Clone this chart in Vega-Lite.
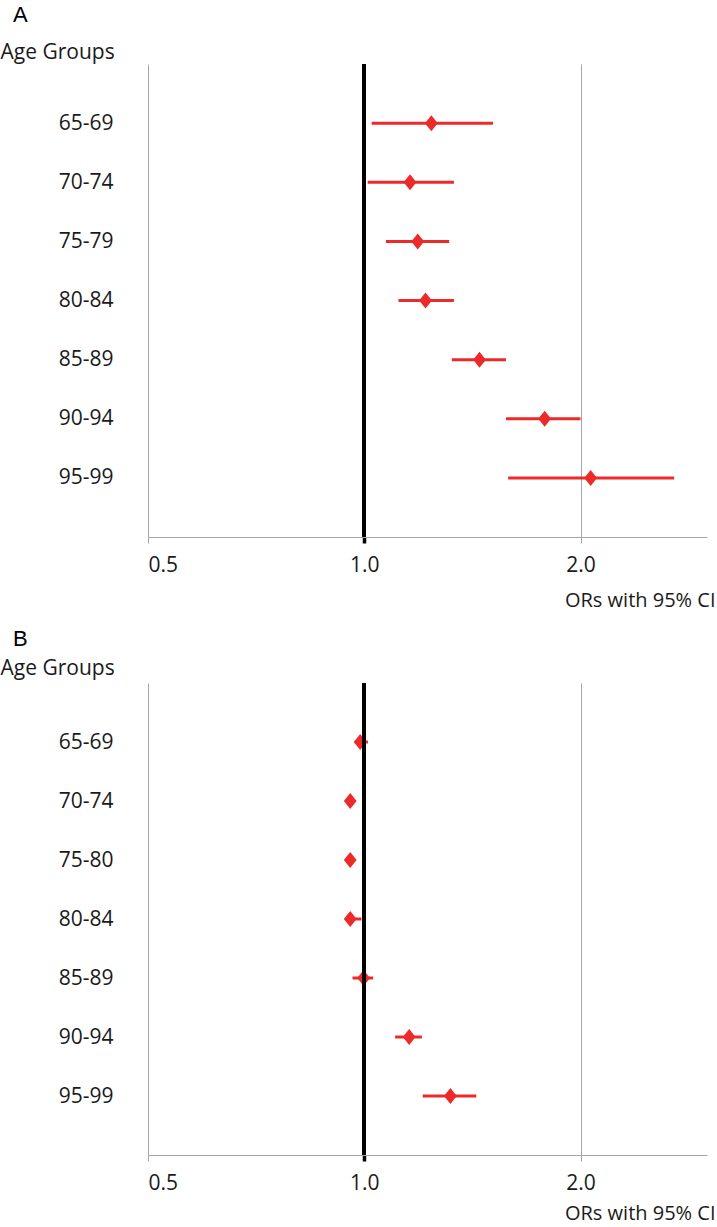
{
  "$schema": "https://vega.github.io/schema/vega-lite/v6.json",
  "padding": {"top": 4, "left": 0, "right": 0, "bottom": 0},
  "background": "white",
  "spacing": 18,
  "config": {
    "view": {"stroke": null},
    "font": "Open Sans",
    "axisX": {
      "format": ".1f",
      "grid": true,
      "gridColor": "#a6a6a6",
      "gridWidth": 1,
      "domainColor": "#a6a6a6",
      "domainWidth": 1,
      "tickColor": {"condition": {"test": "datum.value == 1", "value": "#000000"}, "value": "#a6a6a6"},
      "tickWidth": {"condition": {"test": "datum.value == 1", "value": 3.5}, "value": 1},
      "tickSize": 6,
      "labelFontSize": 21,
      "labelColor": "#1a1a1a",
      "labelPadding": 11,
      "titleFontSize": 20,
      "titleFontWeight": "normal",
      "titleColor": "#1a1a1a",
      "titleAlign": "right",
      "titleBaseline": "middle",
      "titleX": 567,
      "titleY": 63
    },
    "axisY": {
      "domain": false,
      "ticks": false,
      "tickSize": 0,
      "grid": false,
      "labelPadding": 35,
      "labelFontSize": 21,
      "labelColor": "#1a1a1a",
      "titleAngle": 0,
      "titleAlign": "left",
      "titleBaseline": "middle",
      "titleX": -148,
      "titleFontSize": 21,
      "titleFontWeight": "normal",
      "titleColor": "#1a1a1a"
    }
  },
  "datasets": {
    "A": [
      {"age": "65-69", "or": 1.240, "lo": 1.024, "hi": 1.511},
      {"age": "70-74", "or": 1.158, "lo": 1.011, "hi": 1.333},
      {"age": "75-79", "or": 1.187, "lo": 1.072, "hi": 1.313},
      {"age": "80-84", "or": 1.217, "lo": 1.116, "hi": 1.333},
      {"age": "85-89", "or": 1.447, "lo": 1.324, "hi": 1.575},
      {"age": "90-94", "or": 1.783, "lo": 1.575, "hi": 2.000},
      {"age": "95-99", "or": 2.066, "lo": 1.586, "hi": 2.700}
    ],
    "B": [
      {"age": "65-69", "or": 0.987, "lo": 0.970, "hi": 1.012},
      {"age": "70-74", "or": 0.956, "lo": 0.945, "hi": 0.970},
      {"age": "75-80", "or": 0.956, "lo": 0.945, "hi": 0.970},
      {"age": "80-84", "or": 0.956, "lo": 0.940, "hi": 0.991},
      {"age": "85-89", "or": 0.998, "lo": 0.963, "hi": 1.029},
      {"age": "90-94", "or": 1.155, "lo": 1.104, "hi": 1.203},
      {"age": "95-99", "or": 1.318, "lo": 1.206, "hi": 1.432}
    ]
  },
  "vconcat": [
    {
      "width": 559,
      "height": 473,
      "title": {"text": "A", "font": "Liberation Sans", "fontSize": 22, "fontWeight": "normal", "color": "#000000", "anchor": "start", "frame": "bounds", "dx": 13, "offset": 14},
      "data": {"name": "A"},
      "layer": [
        {
          "mark": {"type": "rule", "color": "#ed2a2a", "strokeWidth": 3},
          "encoding": {
            "y": {"field": "age", "type": "nominal", "sort": null, "scale": {"type": "point", "padding": 1}, "axis": {"title": "Age Groups", "titleY": -12}},
            "x": {"field": "lo", "type": "quantitative", "scale": {"type": "log", "domain": [0.5, 3], "nice": false}, "axis": {"title": "ORs with 95% CI", "values": [0.5, 1, 2]}},
            "x2": {"field": "hi"}
          }
        },
        {
          "mark": {"type": "point", "shape": "M-0.8,0L0,-1L0.8,0L0,1Z", "size": 256, "filled": true, "color": "#ed2a2a", "opacity": 1},
          "encoding": {
            "y": {"field": "age", "type": "nominal", "sort": null},
            "x": {"field": "or", "type": "quantitative"}
          }
        },
        {
          "mark": {"type": "rule", "color": "#000000", "strokeWidth": 3.5},
          "encoding": {"x": {"datum": 1, "type": "quantitative"}}
        }
      ]
    },
    {
      "width": 559,
      "height": 472,
      "title": {"text": "B", "font": "Liberation Sans", "fontSize": 22, "fontWeight": "normal", "color": "#000000", "anchor": "start", "frame": "bounds", "dx": 13, "offset": 6},
      "data": {"name": "B"},
      "layer": [
        {
          "mark": {"type": "rule", "color": "#ed2a2a", "strokeWidth": 3},
          "encoding": {
            "y": {"field": "age", "type": "nominal", "sort": null, "scale": {"type": "point", "padding": 1}, "axis": {"title": "Age Groups", "titleY": -15}},
            "x": {"field": "lo", "type": "quantitative", "scale": {"type": "log", "domain": [0.5, 3], "nice": false}, "axis": {"title": "ORs with 95% CI", "values": [0.5, 1, 2], "titleY": 58}},
            "x2": {"field": "hi"}
          }
        },
        {
          "mark": {"type": "point", "shape": "M-0.8,0L0,-1L0.8,0L0,1Z", "size": 256, "filled": true, "color": "#ed2a2a", "opacity": 1},
          "encoding": {
            "y": {"field": "age", "type": "nominal", "sort": null},
            "x": {"field": "or", "type": "quantitative"}
          }
        },
        {
          "mark": {"type": "rule", "color": "#000000", "strokeWidth": 3.5},
          "encoding": {"x": {"datum": 1, "type": "quantitative"}}
        }
      ]
    }
  ]
}
